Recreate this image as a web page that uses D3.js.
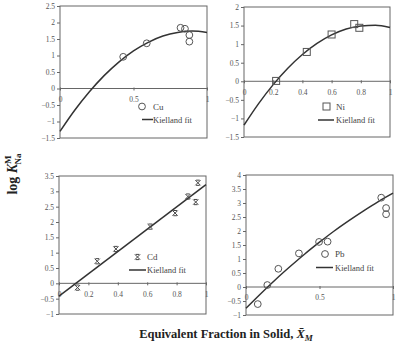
<!DOCTYPE html>
<html>
<head>
<meta charset="utf-8">
<script src="https://cdn.jsdelivr.net/npm/d3@7"></script>
<style>
  body { margin: 0; background: #fff; }
  svg text { font-family: "Liberation Serif", "Times New Roman", serif; }
</style>
</head>
<body>
<svg id="chart" width="397" height="346"></svg>
<script>
// --- values ---
const fitX = [0, 0.1, 0.2, 0.3, 0.4, 0.5, 0.6, 0.7, 0.8, 0.9, 1.0];

const cuX = [0.43, 0.59, 0.82, 0.85, 0.88, 0.88];
const cuY = [0.96, 1.37, 1.84, 1.81, 1.62, 1.42];
const cuFit = [-1.3, -0.66, -0.1, 0.39, 0.8, 1.14, 1.4, 1.59, 1.7, 1.74, 1.7];

const niX = [0.22, 0.43, 0.60, 0.755, 0.79];
const niY = [0.01, 0.79, 1.26, 1.54, 1.44];
const niFit = [-1.18, -0.6, -0.09, 0.35, 0.72, 1.02, 1.25, 1.41, 1.49, 1.51, 1.45];

const cdX = [0.126, 0.26, 0.387, 0.62, 0.79, 0.877, 0.93, 0.945];
const cdY = [-0.14, 0.72, 1.12, 1.85, 2.29, 2.83, 2.65, 3.28];
const cdFitX = [0, 1];
const cdFit = [-0.42, 3.22];

const pbX = [0.08, 0.145, 0.22, 0.36, 0.497, 0.555, 0.92, 0.953, 0.953];
const pbY = [-0.61, 0.07, 0.65, 1.2, 1.61, 1.62, 3.19, 2.82, 2.6];
const pbFit = [-0.76, -0.24, 0.26, 0.73, 1.18, 1.6, 2.0, 2.37, 2.72, 3.05, 3.35];

const cuYTicks = [-1.5, -1, -0.5, 0, 0.5, 1, 1.5, 2, 2.5];
const niYTicks = [-1.5, -1, -0.5, 0, 0.5, 1, 1.5, 2];
const cdYTicks = [-1, -0.5, 0, 0.5, 1, 1.5, 2, 2.5, 3, 3.5];
const pbYTicks = [-1, -0.5, 0, 0.5, 1, 1.5, 2, 2.5, 3, 3.5, 4];
const halfTicks = [0, 0.5, 1];
const fifthTicks = [0, 0.2, 0.4, 0.6, 0.8, 1];

const svg = d3.select("#chart");
const axisCol = "#666";
const labCol = "#555";

const panels = [
  { name: "Cu", marker: "circle", x: cuX, y: cuY, fx: fitX, fy: cuFit,
    box: [60, 6, 207, 138], yd: [-1.5, 2.5], yt: cuYTicks, xt: halfTicks,
    leg: { mx: 142, my: 106.5, tx: 153, ly: 119.5, l0: 142, l1: 153 } },
  { name: "Ni", marker: "square", x: niX, y: niY, fx: fitX, fy: niFit,
    box: [244, 7, 390, 137], yd: [-1.5, 2], yt: niYTicks, xt: fifthTicks,
    leg: { mx: 326.5, my: 106.5, tx: 336, ly: 120, l0: 318, l1: 334 } },
  { name: "Cd", marker: "star", x: cdX, y: cdY, fx: cdFitX, fy: cdFit,
    box: [59, 176, 206, 314], yd: [-1, 3.5], yt: cdYTicks, xt: fifthTicks,
    leg: { mx: 137.5, my: 257, tx: 147, ly: 270, l0: 129, l1: 146 } },
  { name: "Pb", marker: "circle", x: pbX, y: pbY, fx: fitX, fy: pbFit,
    box: [246, 175, 393, 315], yd: [-1, 4], yt: pbYTicks, xt: halfTicks,
    leg: { mx: 325, my: 254, tx: 335, ly: 267.5, l0: 316, l1: 333 } }
];

function drawMarker(g, type, cx, cy) {
  if (type === "circle") {
    g.append("circle").attr("cx", cx).attr("cy", cy).attr("r", 3.4)
      .attr("fill", "none").attr("stroke", "#555").attr("stroke-width", 1);
  } else if (type === "square") {
    g.append("rect").attr("x", cx - 3.5).attr("y", cy - 3.5)
      .attr("width", 7).attr("height", 7)
      .attr("fill", "none").attr("stroke", "#555").attr("stroke-width", 1);
  } else {
    // x with short bars top and bottom
    const s = 2.6, b = 1.8;
    g.append("path")
      .attr("d", `M${cx - s},${cy - s}L${cx + s},${cy + s}M${cx + s},${cy - s}L${cx - s},${cy + s}` +
                 `M${cx - b},${cy - s}L${cx + b},${cy - s}M${cx - b},${cy + s}L${cx + b},${cy + s}`)
      .attr("fill", "none").attr("stroke", "#444").attr("stroke-width", 1);
  }
}

panels.forEach(p => {
  const [x0, y0, x1, y1] = p.box;
  const x = d3.scaleLinear().domain([0, 1]).range([x0, x1]);
  const y = d3.scaleLinear().domain(p.yd).range([y1, y0]);
  const g = svg.append("g");

  // frame
  g.append("rect").attr("x", x0).attr("y", y0).attr("width", x1 - x0).attr("height", y1 - y0)
    .attr("fill", "none").attr("stroke", axisCol).attr("stroke-width", 1);

  // y axis ticks + labels
  const yAxis = d3.axisLeft(y).tickValues(p.yt).tickSize(3).tickPadding(2)
    .tickFormat(d3.format("~g"));
  const ya = g.append("g").attr("transform", `translate(${x0},0)`).call(yAxis);
  ya.select(".domain").remove();
  ya.selectAll("line").attr("stroke", axisCol);
  ya.selectAll("text").attr("font-size", 7.5).attr("fill", labCol)
    .attr("font-family", "Liberation Serif, serif");

  // x axis on the zero line
  const xAxis = d3.axisBottom(x).tickValues(p.xt).tickSize(2).tickPadding(6)
    .tickFormat(d3.format("~g"));
  const xa = g.append("g").attr("transform", `translate(0,${y(0)})`).call(xAxis);
  xa.select(".domain").attr("stroke", axisCol).attr("d", `M${x0},0H${x1}`);
  xa.selectAll("line").attr("stroke", axisCol).attr("y1", -1);
  xa.selectAll("text").attr("font-size", 7.5).attr("fill", labCol)
    .attr("font-family", "Liberation Serif, serif");

  // fit curve
  const line = d3.line().x(d => x(d[0])).y(d => y(d[1])).curve(d3.curveMonotoneX);
  g.append("path").datum(p.fx.map((v, i) => [v, p.fy[i]]))
    .attr("d", line).attr("fill", "none").attr("stroke", "#333").attr("stroke-width", 1.5);

  // points
  p.x.forEach((v, i) => drawMarker(g, p.marker, x(v), y(p.y[i])));

  // legend
  const L = p.leg;
  drawMarker(g, p.marker, L.mx, L.my);
  g.append("text").attr("x", L.tx).attr("y", L.my + 3).attr("font-size", 9)
    .attr("fill", "#444").text(p.name);
  g.append("line").attr("x1", L.l0).attr("x2", L.l1).attr("y1", L.ly).attr("y2", L.ly)
    .attr("stroke", "#333").attr("stroke-width", 1.5);
  g.append("text").attr("x", L.tx).attr("y", L.ly + 3).attr("font-size", 8.5)
    .attr("fill", "#444").text("Kielland fit");
});

// y axis title
const yt = svg.append("text")
  .attr("transform", "translate(17,174) rotate(-90)")
  .attr("text-anchor", "middle")
  .attr("font-size", 14).attr("font-weight", "bold").attr("fill", "#222");
yt.append("tspan").text("log ");
yt.append("tspan").attr("font-style", "italic").text("K");
yt.append("tspan").attr("font-size", 9).attr("dy", -6).text("M");
yt.append("tspan").attr("font-size", 9).attr("dx", -9).attr("dy", 10).text("Na");

// x axis title
const xt = svg.append("text")
  .attr("x", 226).attr("y", 338)
  .attr("text-anchor", "middle")
  .attr("font-size", 12.5).attr("font-weight", "bold").attr("fill", "#222");
xt.append("tspan").text("Equivalent Fraction in Solid, ");
xt.append("tspan").attr("font-style", "italic").text("X\u0304");
xt.append("tspan").attr("font-size", 9).attr("font-style", "italic").attr("dy", 3).text("M");
</script>
</body>
</html>
